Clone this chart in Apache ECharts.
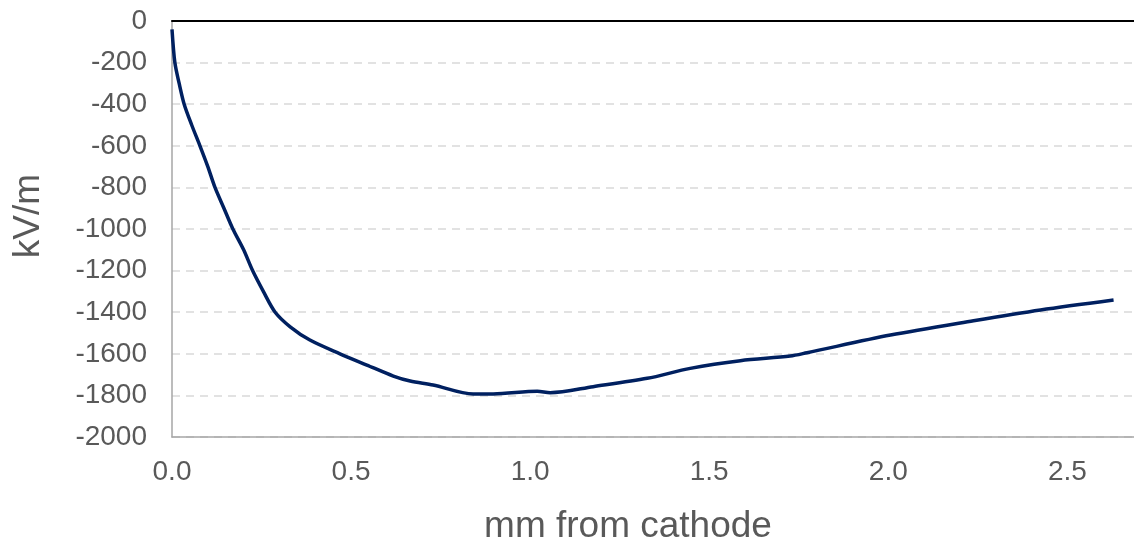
<!DOCTYPE html>
<html>
<head>
<meta charset="utf-8">
<script src="https://cdn.jsdelivr.net/npm/echarts@6/dist/echarts.min.js"></script>
<style>html,body{margin:0;padding:0;background:#fff}#c{width:1134px;height:538px}</style>
</head>
<body>
<div id="c"></div>
<script>
const xMM = [0, 0.008, 0.02, 0.034, 0.055, 0.078, 0.1, 0.12, 0.145, 0.17, 0.2, 0.225, 0.255, 0.288, 0.33, 0.385, 0.469, 0.544, 0.618, 0.665, 0.729, 0.841, 0.897, 1.02, 1.056, 1.176, 1.327, 1.447, 1.587, 1.726, 1.773, 2.006, 2.238, 2.425, 2.629];
const fieldKV = [-40, -200, -300, -400, -500, -600, -700, -800, -900, -1000, -1100, -1200, -1300, -1400, -1470, -1534, -1600, -1654, -1707, -1731, -1750, -1793, -1793, -1780, -1787, -1758, -1718, -1670, -1633, -1611, -1595, -1510, -1441, -1389, -1341];
const xName = 'mm from cathode';
const yName = 'kV/m';

const chart = echarts.init(document.getElementById('c'), null, {renderer: 'canvas'});
const font = 'Liberation Sans, Arial, sans-serif';
chart.setOption({
  animation: false,
  grid: {left: 172, top: 21, width: 967, height: 416, containLabel: false, outerBoundsMode: 'none'},
  xAxis: [{
    type: 'value', min: 0, max: 2.7, interval: 0.5, position: 'bottom',
    axisLine: {onZero: false, lineStyle: {color: '#a6a6a6', width: 1.5}},
    axisTick: {show: false},
    splitLine: {show: false},
    axisLabel: {color: '#595959', fontSize: 28, fontFamily: font, margin: 21, showMaxLabel: false,
      formatter: v => v.toFixed(1)},
    name: xName, nameLocation: 'middle', nameGap: 71,
    nameTextStyle: {color: '#595959', fontSize: 37, fontFamily: font, padding: [0, 55, 0, 0]}
  }, {
    type: 'value', min: 0, max: 2.7, position: 'top',
    axisLine: {onZero: false, lineStyle: {color: '#000000', width: 2}},
    axisTick: {show: false}, axisLabel: {show: false}, splitLine: {show: false}
  }],
  yAxis: {
    type: 'value', min: -2000, max: 0, interval: 200,
    axisLine: {show: true, lineStyle: {color: '#a6a6a6', width: 1.5}},
    axisTick: {show: false},
    splitLine: {show: true, lineStyle: {color: '#d9d9d9', width: 1.5, type: [8, 6]}},
    axisLabel: {color: '#595959', fontSize: 28, fontFamily: font, margin: 25, formatter: v => String(v)},
    name: yName, nameLocation: 'middle', nameGap: 125,
    nameTextStyle: {color: '#595959', fontSize: 37, fontFamily: font, padding: [0, 0, 0, 26]}
  },
  series: [{
    type: 'line', xAxisIndex: 0,
    data: xMM.map((x, i) => [x, fieldKV[i]]),
    showSymbol: false, smooth: 0.3,
    lineStyle: {color: '#002060', width: 3.5},
    itemStyle: {color: '#002060'}
  }]
});
</script>
</body>
</html>
